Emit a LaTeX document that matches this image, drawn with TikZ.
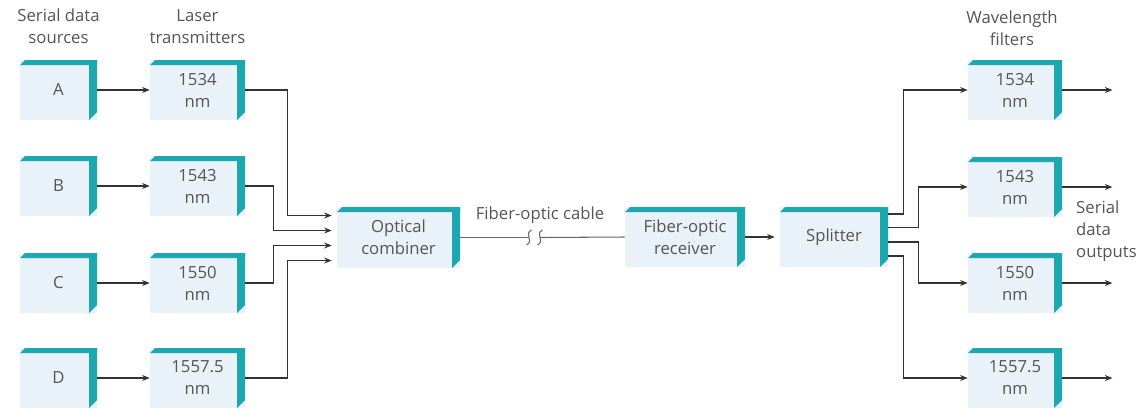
\documentclass[tikz,border=0pt]{standalone}
\usepackage{fontspec}
\setmainfont{Open Sans}
\usetikzlibrary{arrows.meta, positioning}

\definecolor{boxfill}{HTML}{E8F2F8}
\definecolor{barteal}{HTML}{1DA7B1}
\definecolor{txtgray}{HTML}{555555}
\definecolor{wiregray}{HTML}{333333}

\begin{document}
\begin{tikzpicture}[
    >={Stealth[length=1.5mm, width=1.2mm]},
    every node/.style={font=\fontsize{9.5}{12.5}\selectfont, text=txtgray},
    blk/.style={rectangle, fill=boxfill, minimum height=1.2cm, align=center, inner sep=0pt,
      path picture={
        \fill[barteal] ([yshift=-1mm]path picture bounding box.north west)
          -- ([xshift=1mm]path picture bounding box.north west)
          -- (path picture bounding box.north east)
          -- ([yshift=-1mm]path picture bounding box.north east) -- cycle;
        \fill[barteal] ([xshift=-1.6mm]path picture bounding box.north east)
          -- (path picture bounding box.north east)
          -- ([yshift=1.6mm]path picture bounding box.south east)
          -- ([xshift=-1.6mm]path picture bounding box.south east) -- cycle;
      }},
    srcbox/.style={blk, minimum width=1.54cm},
    txbox/.style={blk, minimum width=1.9cm},
    filbox/.style={blk, minimum width=1.88cm},
    hdr/.style={align=center},
    sig/.style={->, wiregray, semithick},
    cable/.style={gray!80!black, semithick},
    ]
  \useasboundingbox (0,0) rectangle (22.92,-8.16);

  % headings
  \node[hdr] (hsrc) at (1.17,-0.53) {Serial data\\sources};
  \node[hdr] (htx) at (3.95,-0.53) {Laser\\transmitters};
  \node[hdr] (hfil) at (20.24,-0.56) {Wavelength\\filters};

  % sources and lasers
  \node[srcbox] (srcA) at (1.17,-1.80) {A};
  \node[srcbox] (srcB) at (1.17,-3.72) {B};
  \node[srcbox] (srcC) at (1.17,-5.66) {C};
  \node[srcbox] (srcD) at (1.17,-7.56) {D};
  \node[txbox] (txA) at (3.95,-1.80) {1534\\nm};
  \node[txbox] (txB) at (3.95,-3.72) {1543\\nm};
  \node[txbox] (txC) at (3.95,-5.66) {1550\\nm};
  \node[txbox] (txD) at (3.95,-7.56) {1557.5\\nm};

  % middle chain
  \node[blk, minimum width=2.46cm, minimum height=1.22cm] (comb) at (7.97,-4.75) {Optical\\combiner};
  \node[blk, minimum width=2.4cm] (rcv) at (13.70,-4.74) {Fiber-optic\\receiver};
  \node[blk, minimum width=2.16cm] (split) at (16.68,-4.74) {Splitter};

  % filters
  \node[filbox] (filA) at (20.30,-1.80) {1534\\nm};
  \node[filbox] (filB) at (20.30,-3.74) {1543\\nm};
  \node[filbox] (filC) at (20.30,-5.66) {1550\\nm};
  \node[filbox] (filD) at (20.30,-7.56) {1557.5\\nm};

  \node[align=left, anchor=west] (outlbl) at (21.40,-4.62) {Serial\\data\\outputs};
  \node (cablelbl) at (10.80,-4.30) {Fiber-optic cable};

  \draw[sig] (srcA) -- (txA);
  \draw[sig] (srcB) -- (txB);
  \draw[sig] (srcC) -- (txC);
  \draw[sig] (srcD) -- (txD);

  \draw[sig, shorten >=1mm] (txA.east) -- ++(0.84,0) |- ([yshift=4.4mm]comb.west);
  \draw[sig, shorten >=1mm] (txB.east) -- ++(0.56,0) |- ([yshift=1.4mm]comb.west);
  \draw[sig, shorten >=1mm] (txC.east) -- ++(0.56,0) |- ([yshift=-1.6mm]comb.west);
  \draw[sig, shorten >=1mm] (txD.east) -- ++(0.84,0) |- ([yshift=-4.6mm]comb.west);

  % cable with break
  \coordinate (cutL) at (10.58,-4.75);
  \coordinate (cutR) at (10.80,-4.75);
  \draw[cable] (comb.east) -- (cutL);
  \draw[cable] (cutR) -- (rcv.west);
  \draw[cable] (cutL) ++(0.05,0.15) .. controls +(-0.16,-0.08) and +(0.16,0.08) .. ++(-0.10,-0.30);
  \draw[cable] (cutR) ++(0.05,0.15) .. controls +(-0.16,-0.08) and +(0.16,0.08) .. ++(-0.10,-0.30);

  \draw[sig, shorten >=1mm] (rcv) -- (split);

  \draw[sig] ([yshift=4.6mm]split.east) -- ++(0.30,0) |- (filA.west);
  \draw[sig] ([yshift=1.9mm]split.east) -- ++(0.60,0) |- (filB.west);
  \draw[sig] ([yshift=-1.0mm]split.east) -- ++(0.60,0) |- (filC.west);
  \draw[sig] ([yshift=-3.8mm]split.east) -- ++(0.30,0) |- (filD.west);

  \draw[sig] (filA.east) -- ++(1.0,0);
  \draw[sig] (filB.east) -- ++(1.0,0);
  \draw[sig] (filC.east) -- ++(1.0,0);
  \draw[sig] (filD.east) -- ++(1.0,0);
\end{tikzpicture}
\end{document}
